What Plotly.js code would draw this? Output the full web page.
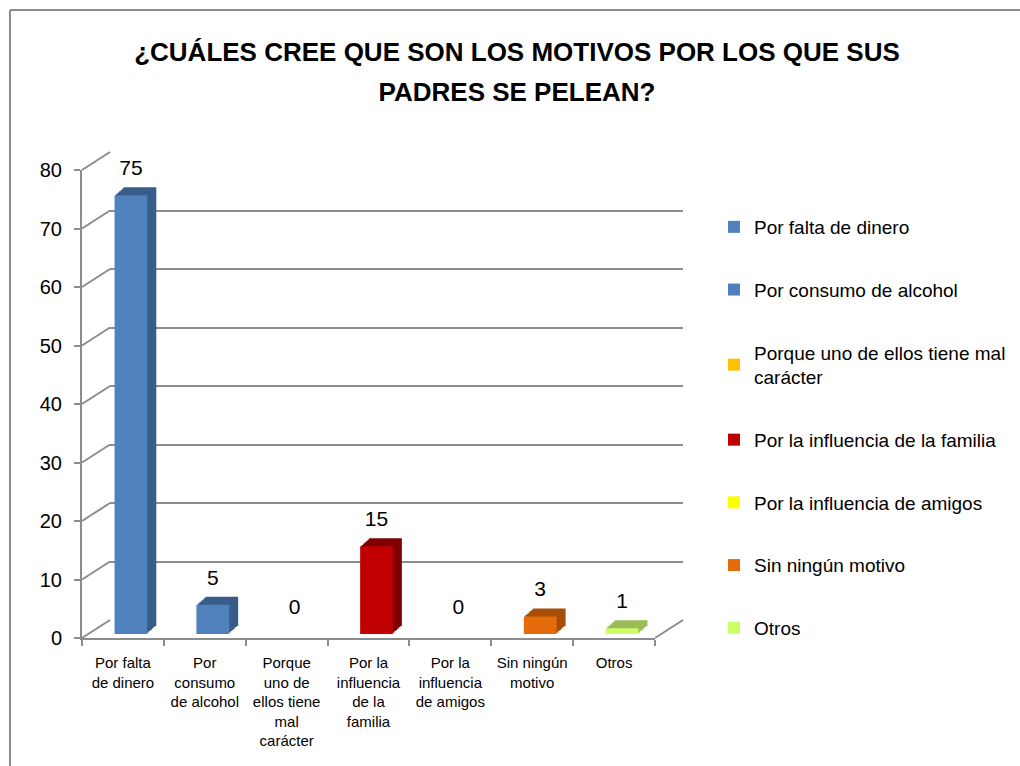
<!DOCTYPE html>
<html>
<head>
<meta charset="utf-8">
<script src="https://cdn.plot.ly/plotly-3.0.1.min.js"></script>
<style>html,body{margin:0;padding:0;background:#fff;}#chart{width:1020px;height:766px;}</style>
</head>
<body>
<div id="chart"></div>
<script>
// ---- data ----
const categories = ["Por falta de dinero", "Por consumo de alcohol", "Porque uno de ellos tiene mal carácter", "Por la influencia de la familia", "Por la influencia de amigos", "Sin ningún motivo", "Otros"];
const tickLabels = ["Por falta<br>de dinero", "Por<br>consumo<br>de alcohol", "Porque<br>uno de<br>ellos tiene<br>mal<br>carácter", "Por la<br>influencia<br>de la<br>familia", "Por la<br>influencia<br>de amigos", "Sin ningún<br>motivo", "Otros"];
const legendNames = ["Por falta de dinero", "Por consumo de alcohol", "Porque uno de ellos tiene mal<br>carácter", "Por la influencia de la familia", "Por la influencia de amigos", "Sin ningún motivo", "Otros"];
const values = [75, 5, 0, 15, 0, 3, 1];
const frontColors = ["#4F81BD", "#4F81BD", "#FFC000", "#C00000", "#FFFF00", "#E46C0A", "#CCFF66"];
const sideColors = ["#385D8A", "#385D8A", "#BF9000", "#7F0000", "#BFBF00", "#A64F06", "#9BBB59"];
const yTickVals = [0, 10, 20, 30, 40, 50, 60, 70, 80];
const titleLines = ["¿CUÁLES CREE QUE SON LOS MOTIVOS POR LOS QUE SUS", "PADRES SE PELEAN?"];

// ---- geometry helpers (pixels -> paper) ----
const W = 1020, H = 766;
const px = v => v / W;
const py = v => 1 - v / H;
const plot = {x0: 82, x1: 655, y0: 638, y1: 170};
const wallOff = {dx: 28, dy: -18};
const frontOff = {dx: 8, dy: -4};
const depth = {dx: 9, dy: -8};
const labelOff = {dx: 8, dy: -19};
const nLayers = 6;
function dom(o) {
  return {x: [px(plot.x0 + o.dx), px(plot.x1 + o.dx)], y: [py(plot.y0 + o.dy), py(plot.y1 + o.dy)]};
}
const yRange = [0, 80];
const xRange = [-0.5, categories.length - 0.5];
const gridColor = "#8c8c8c";
const font = "Arial, 'Liberation Sans', sans-serif";

const catAxis = (d, anchor, extra) => Object.assign({
  domain: d, anchor: anchor, type: "category", categoryorder: "array", categoryarray: categories,
  range: xRange, showgrid: false, zeroline: false, showline: false, showticklabels: false, ticks: ""
}, extra || {});
const valAxis = (d, anchor, extra) => Object.assign({
  domain: d, anchor: anchor, range: yRange, showgrid: false, zeroline: false, showline: false,
  showticklabels: false, ticks: ""
}, extra || {});

const traces = [];
const layoutAxes = {};
const dMain = dom({dx: 0, dy: 0});
const dWall = dom(wallOff);

// hidden trace to establish main category axis
traces.push({type: "scatter", x: categories, y: values.map(() => 0), mode: "markers",
  marker: {opacity: 0}, showlegend: false, hoverinfo: "skip", xaxis: "x", yaxis: "y"});
// wall helper trace
traces.push({type: "scatter", x: [0.5], y: [0], mode: "markers", marker: {opacity: 0},
  showlegend: false, hoverinfo: "skip", xaxis: "x2", yaxis: "y2"});

// depth layers (farthest first)
let axisId = 3;
for (let L = nLayers; L >= 1; L--) {
  const t = L / nLayers;
  const d = dom({dx: frontOff.dx + depth.dx * t, dy: frontOff.dy + depth.dy * t});
  layoutAxes["xaxis" + axisId] = catAxis(d.x, "y" + axisId);
  layoutAxes["yaxis" + axisId] = valAxis(d.y, "x" + axisId);
  categories.forEach((c, i) => {
    traces.push({type: "bar", x: [c], y: [values[i]], width: 0.4, marker: {color: sideColors[i]},
      showlegend: false, hoverinfo: "skip", xaxis: "x" + axisId, yaxis: "y" + axisId});
  });
  axisId++;
}
// front faces + legend
const frontId = axisId++;
const dFront = dom(frontOff);
layoutAxes["xaxis" + frontId] = catAxis(dFront.x, "y" + frontId);
layoutAxes["yaxis" + frontId] = valAxis(dFront.y, "x" + frontId);
categories.forEach((c, i) => {
  traces.push({type: "bar", x: [c], y: [values[i]], width: 0.4, name: legendNames[i],
    legendgroup: "g" + i, marker: {color: frontColors[i]}, xaxis: "x" + frontId, yaxis: "y" + frontId,
    hovertemplate: c + ": %{y}<extra></extra>"});
});
// data labels
const labelId = axisId++;
const dLab = dom(labelOff);
layoutAxes["xaxis" + labelId] = catAxis(dLab.x, "y" + labelId);
layoutAxes["yaxis" + labelId] = valAxis(dLab.y, "x" + labelId);
traces.push({type: "scatter", x: categories, y: values, mode: "text", text: values.map(String),
  textposition: "top center", textfont: {family: font, size: 21, color: "#000"},
  cliponaxis: false, showlegend: false, hoverinfo: "skip", xaxis: "x" + labelId, yaxis: "y" + labelId});

const shapes = [];
// chart frame (left and top edges)
shapes.push({type: "line", xref: "paper", yref: "paper", x0: px(10), x1: px(10), y0: 0, y1: py(10),
  line: {color: "#8c8c8c", width: 2}, layer: "below"});
shapes.push({type: "line", xref: "paper", yref: "paper", x0: px(10), x1: 1, y0: py(10), y1: py(10),
  line: {color: "#8c8c8c", width: 2}, layer: "below"});
// side wall diagonals from front ticks to back gridlines
const k = (plot.y0 - plot.y1) / (yRange[1] - yRange[0]);
yTickVals.forEach(v => {
  shapes.push({type: "line", xref: "paper", yref: "paper",
    x0: px(plot.x0), y0: py(plot.y0 - v * k), x1: px(plot.x0 + wallOff.dx), y1: py(plot.y0 + wallOff.dy - v * k),
    line: {color: gridColor, width: 2}, layer: "below"});
});
// floor right edge
shapes.push({type: "line", xref: "paper", yref: "paper",
  x0: px(plot.x1), y0: py(plot.y0), x1: px(plot.x1 + wallOff.dx), y1: py(plot.y0 + wallOff.dy),
  line: {color: gridColor, width: 2}, layer: "below"});

const layout = Object.assign({
  width: W, height: H, margin: {l: 0, r: 0, t: 0, b: 0},
  paper_bgcolor: "#fff", plot_bgcolor: "rgba(0,0,0,0)",
  barmode: "overlay",
  font: {family: font, color: "#000"},
  title: {
    text: titleLines.map(t => '<span style="font-size:26px">' + t + '</span>').join("<br>"),
    font: {family: font, size: 31, color: "#000", weight: "bold"},
    x: px(517), xanchor: "center", xref: "paper", y: py(61), yref: "container", yanchor: "middle"
  },
  xaxis: catAxis(dMain.x, "y", {
    showline: true, linecolor: gridColor, linewidth: 2, ticks: "outside", ticklen: 6,
    tickcolor: gridColor, tickwidth: 2, tickson: "boundaries", showticklabels: true,
    tickmode: "array", tickvals: categories, ticktext: tickLabels, tickangle: 0, ticklabelstandoff: 10,
    tickfont: {family: font, size: 15, color: "#000"}
  }),
  yaxis: valAxis(dMain.y, "x", {
    showline: true, linecolor: gridColor, linewidth: 2, ticks: "outside", ticklen: 6,
    tickcolor: gridColor, tickwidth: 2, showticklabels: true, tickmode: "array", tickvals: yTickVals,
    tickfont: {family: font, size: 20, color: "#000"}, ticklabelstandoff: 8
  }),
  xaxis2: {domain: dWall.x, anchor: "y2", range: [0, 1], showgrid: false, zeroline: false,
    showline: false, showticklabels: false},
  yaxis2: valAxis(dWall.y, "x2", {showgrid: true, gridcolor: gridColor, gridwidth: 2,
    tickmode: "array", tickvals: yTickVals}),
  showlegend: true,
  legend: {x: px(714), y: py(208), xanchor: "left", yanchor: "top", tracegroupgap: 35,
    font: {family: font, size: 19, color: "#000"}, bgcolor: "rgba(0,0,0,0)", traceorder: "grouped"},
  shapes: shapes
}, layoutAxes);

Plotly.newPlot("chart", traces, layout, {displayModeBar: false, responsive: false});
</script>
</body>
</html>
